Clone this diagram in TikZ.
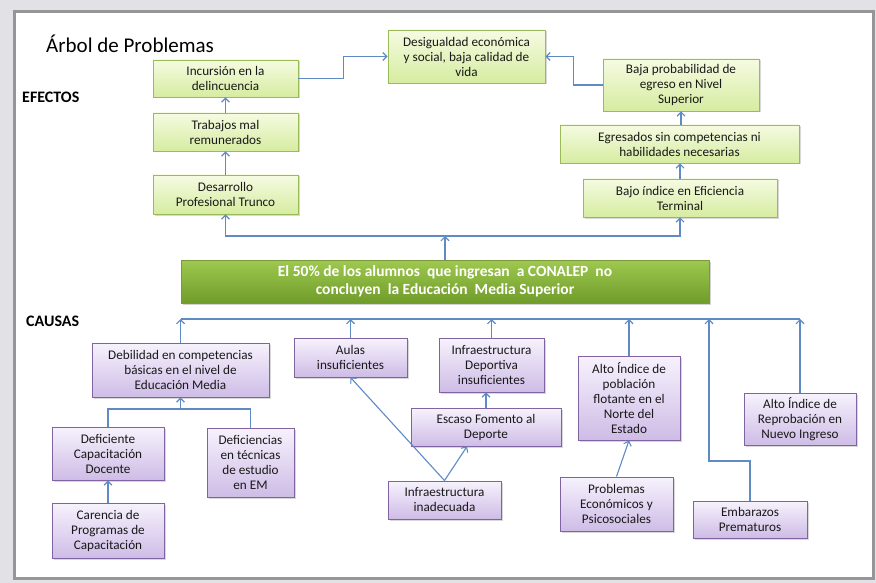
\documentclass[tikz,border=0pt]{standalone}
\usepackage{fontspec}
\setmainfont{Carlito}
\usetikzlibrary{arrows.meta,shadows,calc}
\definecolor{lineblue}{RGB}{95,138,196}
\definecolor{gbord}{RGB}{155,187,89}
\definecolor{gtop}{RGB}{245,251,226}
\definecolor{gbot}{RGB}{214,236,160}
\definecolor{pbord}{RGB}{128,100,162}
\definecolor{ptop}{RGB}{247,242,253}
\definecolor{pbot}{RGB}{206,188,230}
\definecolor{ctop}{RGB}{158,200,78}
\definecolor{cbot}{RGB}{112,156,42}
\definecolor{cbord}{RGB}{122,152,62}
\definecolor{outerbg}{RGB}{226,226,230}
\definecolor{panelbd}{RGB}{150,150,152}
\begin{document}
\begin{tikzpicture}[x=1pt,y=-1pt,
  box/.style={draw, line width=0.9pt, inner sep=1pt, align=center,
    font=\fontsize{13.2}{15}\selectfont, text=black!90,
    drop shadow={shadow xshift=1.5pt, shadow yshift=-1.5pt, opacity=0.3}},
  gbox/.style={box, draw=gbord, top color=gtop, bottom color=gbot},
  pbox/.style={box, draw=pbord, top color=ptop, bottom color=pbot},
  cbox/.style={draw=cbord, line width=0.9pt, top color=ctop, bottom color=cbot,
    align=center, text=white, font=\fontsize{15.5}{18}\selectfont\bfseries,
    drop shadow={shadow xshift=2pt, shadow yshift=-2pt, opacity=0.35}},
  lbl/.style={anchor=west, font=\fontsize{16}{18}\selectfont\bfseries, inner sep=0pt},
  ln/.style={draw=lineblue, line width=1.1pt},
  arr/.style={ln, -{Straight Barb[length=4pt,width=8pt]}}
]
\useasboundingbox (0,0) rectangle (876,583);
\fill[outerbg] (0,0) rectangle (876,583);
\draw[panelbd, line width=3pt, fill=white] (14,12) rectangle (873,578);

\node[anchor=west, inner sep=0pt, font=\fontsize{21}{24}\selectfont] (title) at (46,44) {Árbol de Problemas};
\node[lbl] (efectos) at (22,97) {EFECTOS};
\node[lbl] (causas) at (26,321) {CAUSAS};

% effects
\node[gbox, minimum width=145pt, minimum height=37pt] (inc) at (225.5,78.5) {Incursión en la\\delincuencia};
\node[gbox, minimum width=145pt, minimum height=38pt] (trab) at (225.5,132) {Trabajos mal\\remunerados};
\node[gbox, minimum width=145pt, minimum height=39pt] (desa) at (225.5,194.5) {Desarrollo\\Profesional Trunco};
\node[gbox, minimum width=157pt, minimum height=53pt] (desig) at (466.5,56.5) {Desigualdad económica\\y social, baja calidad de\\vida};
\node[gbox, minimum width=156pt, minimum height=52pt] (bajap) at (681,85) {Baja probabilidad de\\egreso en Nivel\\Superior};
\node[gbox, minimum width=239pt, minimum height=38pt] (egre) at (679.5,144) {Egresados sin competencias ni\\habilidades necesarias};
\node[gbox, minimum width=194pt, minimum height=38pt] (bajoi) at (680,198) {Bajo índice en Eficiencia\\Terminal};

% central problem
\node[cbox, minimum width=528pt, minimum height=43pt] (central) at (445,281.5)
  {El 50\% de los alumnos\ \ que ingresan\ \ a CONALEP\ \ no\\concluyen\ \ la Educación\ \ Media Superior};

% causes
\node[pbox, minimum width=177pt, minimum height=54pt] (debil) at (180.5,370) {Debilidad en competencias\\básicas en el nivel de\\Educación Media};
\node[pbox, minimum width=113pt, minimum height=39pt] (aulas) at (350.5,357.5) {Aulas\\insuficientes};
\node[pbox, minimum width=105pt, minimum height=54pt] (infdep) at (491.5,365) {Infraestructura\\Deportiva\\insuficientes};
\node[pbox, minimum width=150pt, minimum height=38pt] (escaso) at (486,427) {Escaso Fomento al\\Deporte};
\node[pbox, minimum width=113pt, minimum height=38pt] (infina) at (444.5,500) {Infraestructura\\inadecuada};
\node[pbox, minimum width=102pt, minimum height=84pt] (altop) at (629,398) {Alto Índice de\\población\\flotante en el\\Norte del\\Estado};
\node[pbox, minimum width=112pt, minimum height=52pt] (altor) at (800,419) {Alto Índice de\\Reprobación en\\Nuevo Ingreso};
\node[pbox, minimum width=113pt, minimum height=54pt] (probl) at (616.5,504) {Problemas\\Económicos y\\Psicosociales};
\node[pbox, minimum width=114pt, minimum height=37pt] (embar) at (750,519.5) {Embarazos\\Prematuros};
\node[pbox, minimum width=112pt, minimum height=53pt] (defcap) at (108,453.5) {Deficiente\\Capacitación\\Docente};
\node[pbox, minimum width=87pt, minimum height=69pt] (deftec) at (250.5,462.5) {Deficiencias\\en técnicas\\de estudio\\en EM};
\node[pbox, minimum width=112pt, minimum height=55pt] (carenc) at (108,530.5) {Carencia de\\Programas de\\Capacitación};

% effect connectors
\coordinate (ej) at (445,236);
\draw[arr] (central.north) -- (ej);
\draw[arr] (ej) -| (desa.south);
\draw[arr] (ej) -| (bajoi.south);
\draw[arr] (desa.north) -- (trab.south);
\draw[arr] (trab.north) -- (inc.south);
\draw[arr] (inc.east) -- ++(45,0) |- (desig.west);
\draw[arr] (bajap.west) -- ++(-29,0) |- (desig.east);
\draw[arr] (egre.north -| bajap.south) -- (bajap.south);
\draw[arr] (bajoi.north) -- (egre.south -| bajoi.north);

% cause connectors
\coordinate (cy) at (0,319);
\draw[ln] (debil.north |- cy) -- (altor.north |- cy);
\draw[arr] (debil.north) -- (debil.north |- cy);
\draw[arr] (aulas.north) -- (aulas.north |- cy);
\draw[arr] (infdep.north) -- (infdep.north |- cy);
\draw[arr] (altop.north) -- (altop.north |- cy);
\draw[arr] (altor.north) -- (altor.north |- cy);
\coordinate (emb) at (709,461);
\draw[arr] (embar.north) |- (emb) -- (emb |- cy);

\coordinate (dj) at (180.5,409);
\draw[ln] (defcap.north) -- (defcap.north |- dj) -- (deftec.north |- dj) -- (deftec.north);
\draw[arr] (dj) -- (debil.south);
\draw[arr] (carenc.north) -- (defcap.south);
\draw[arr] (escaso.north) -- (escaso.north |- infdep.south);
\draw[arr] (infina.north) -- (aulas.south);
\draw[arr] (infina.north) -- ([xshift=-19pt]escaso.south);
\draw[arr] (probl.north) -- (altop.south);
\end{tikzpicture}
\end{document}
